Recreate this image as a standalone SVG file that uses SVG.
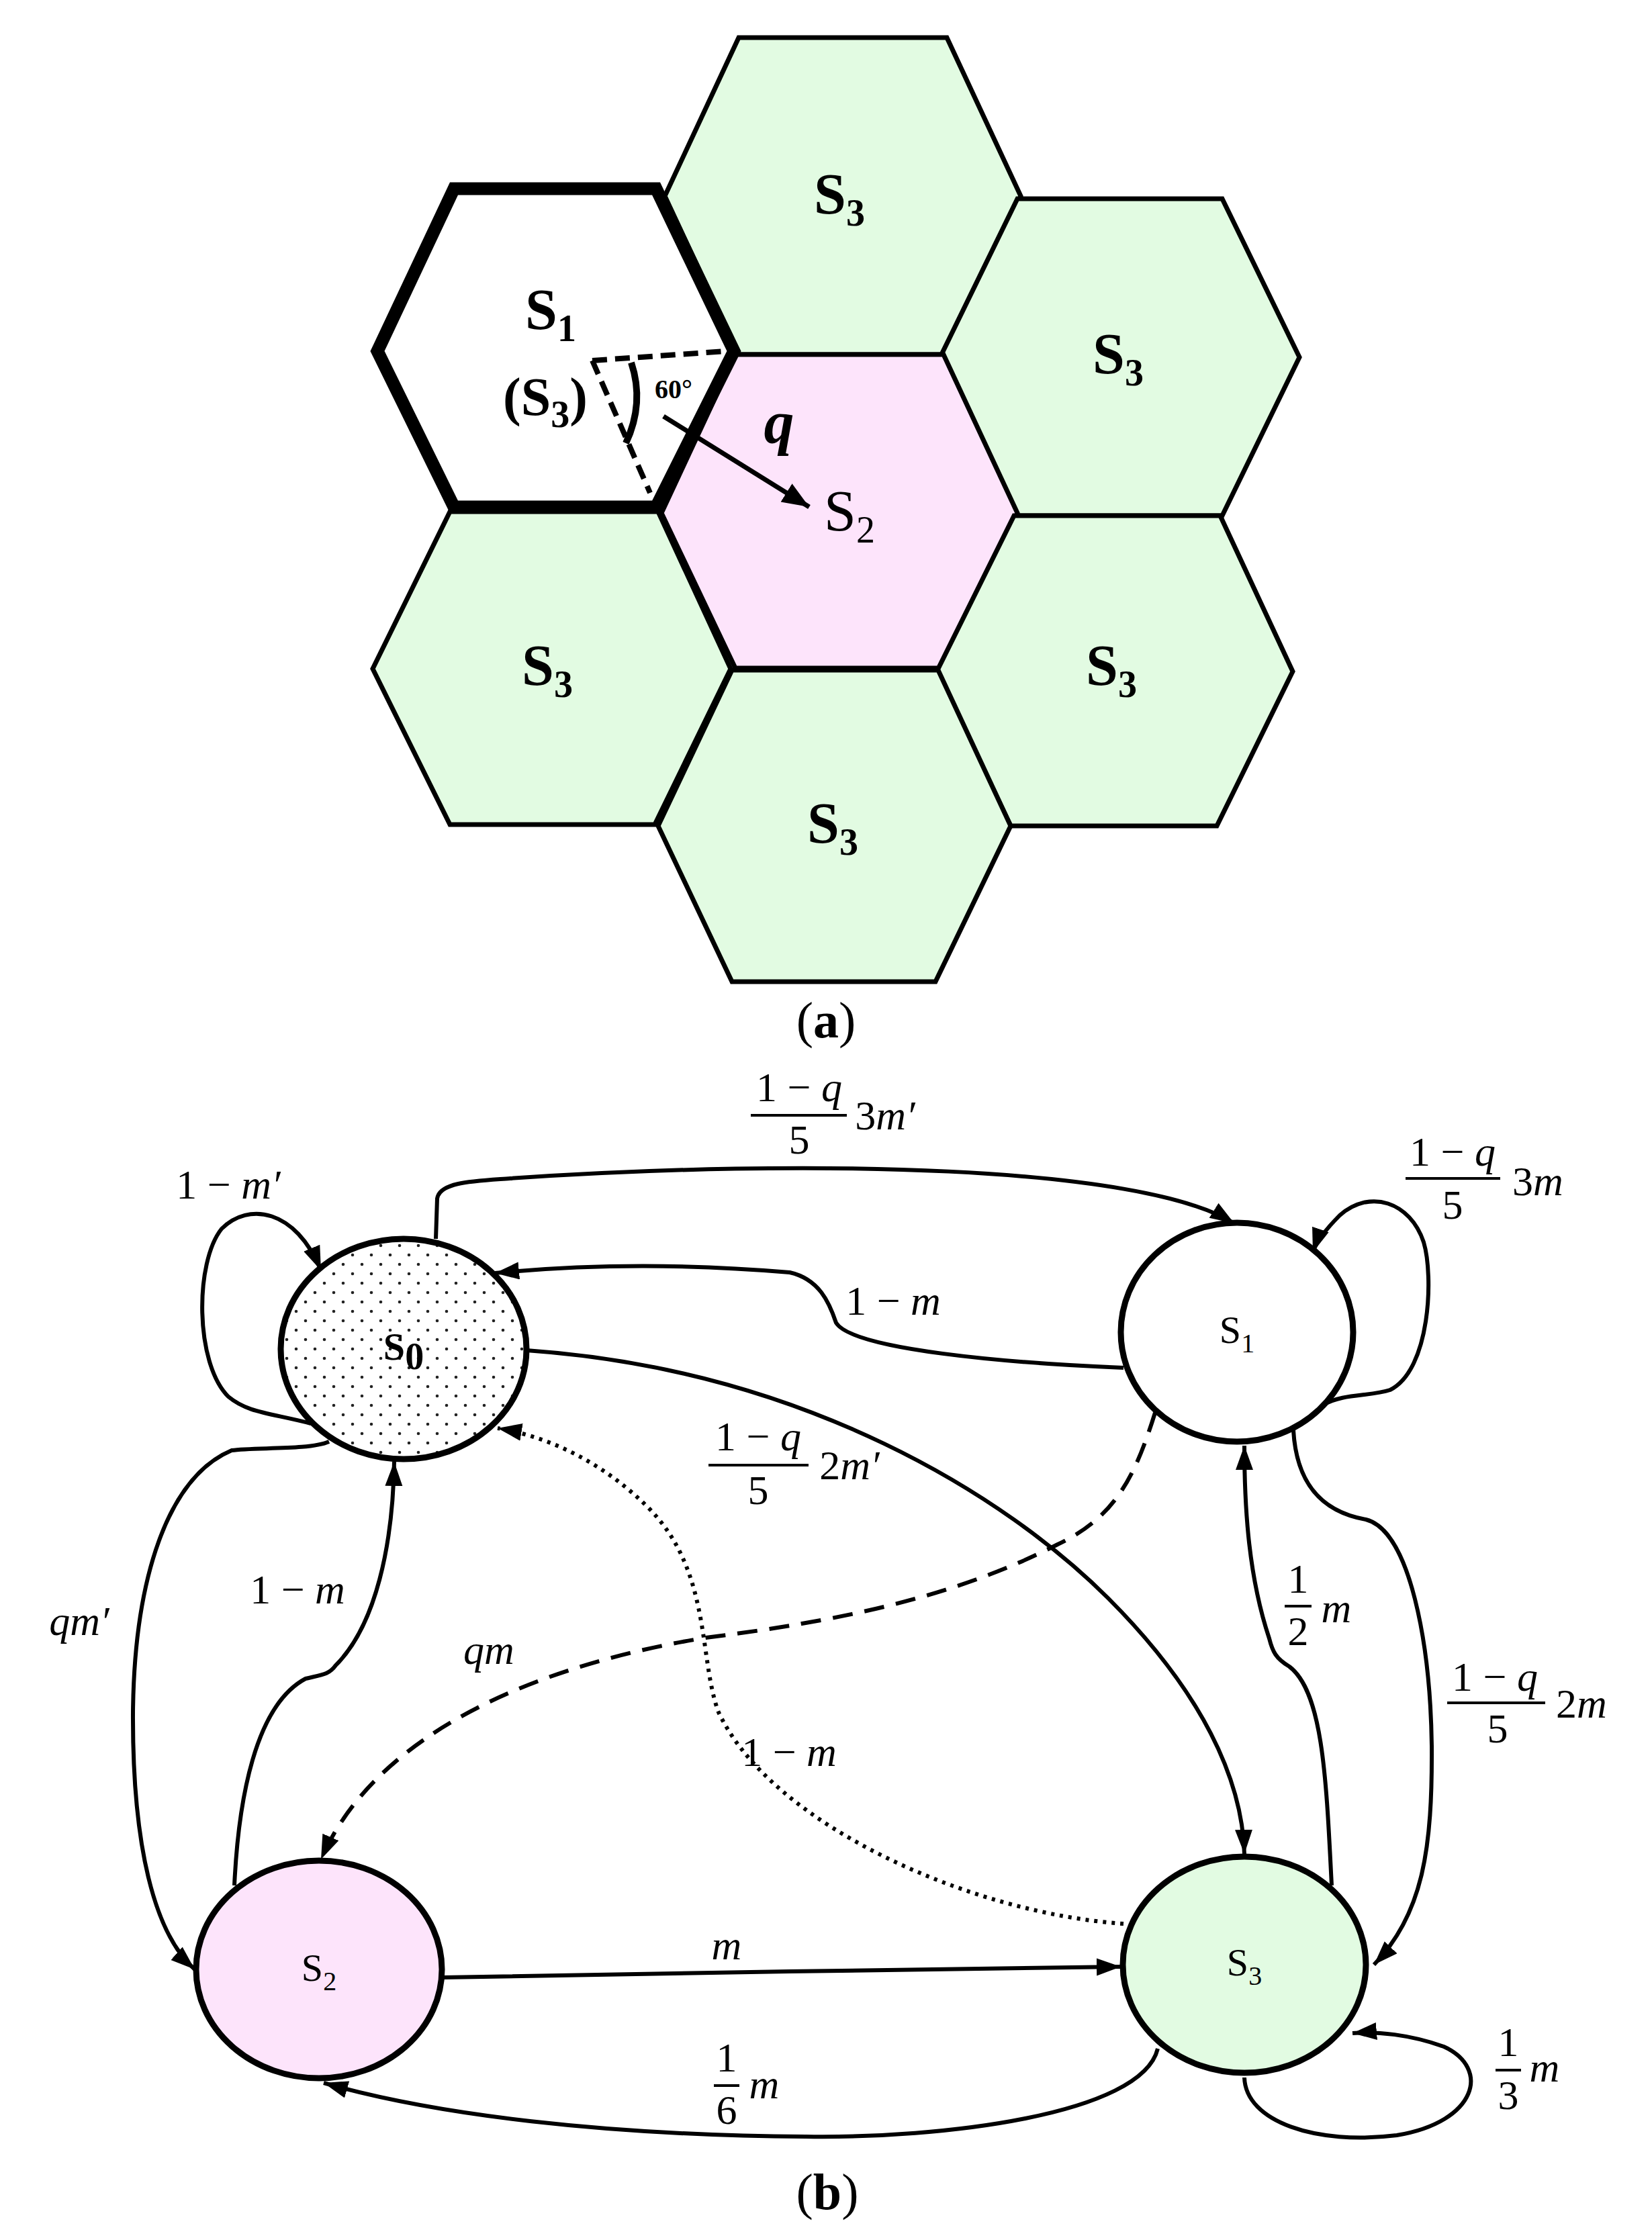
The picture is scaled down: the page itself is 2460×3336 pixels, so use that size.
<svg xmlns="http://www.w3.org/2000/svg" width="2460" height="3336" viewBox="0 0 2460 3336">
<style>
.hex{stroke:#000;stroke-width:7;stroke-linejoin:miter}
.g{fill:#e2fbe2}
.hl{font-family:"Liberation Serif",serif;font-weight:bold;font-size:86px;text-anchor:middle}
.sub{font-size:56px}
.e{fill:none;stroke:#000;stroke-width:6}
.n{stroke:#000;stroke-width:9}
.nl{font-family:"Liberation Serif",serif;font-size:58px;text-anchor:middle}
.m{font-family:"Liberation Serif",serif;font-size:62px;text-anchor:middle}
.i{font-style:italic}
.fl{stroke:#000;stroke-width:4}
.cap{font-family:"Liberation Serif",serif;font-size:76px;text-anchor:middle}
</style>
<defs>
<marker id="ah" markerUnits="userSpaceOnUse" markerWidth="40" markerHeight="30" refX="36" refY="13" orient="auto"><path d="M0,0 L36,13 L0,26 Z" fill="#000"/></marker>
<marker id="ah2" markerUnits="userSpaceOnUse" markerWidth="50" markerHeight="40" refX="40" refY="16" orient="auto"><path d="M0,0 L40,16 L0,32 Z" fill="#000"/></marker>
<pattern id="dots" patternUnits="userSpaceOnUse" width="28" height="28"><rect width="28" height="28" fill="#fff"/><circle cx="7" cy="7" r="2.3" fill="#222"/><circle cx="21" cy="21" r="2.3" fill="#222"/></pattern>
</defs>
<rect width="2460" height="3336" fill="#fff"/>
<g id="hexes">
<polygon id="h-top" class="hex g" points="1100,56 1410,56 1520,292 1410,528 1100,528 990,292"/>
<polygon id="h-ru" class="hex g" points="1515,296 1820,296 1935,532 1820,768 1515,768 1400,532"/>
<polygon id="h-pink" class="hex" fill="#fde4fb" points="1095,528 1405,528 1515,764 1405,995 1095,995 985,764"/>
<polygon id="h-ll" class="hex g" points="670,762 980,762 1088,996 975,1228 670,1228 555,996"/>
<polygon id="h-lr" class="hex g" points="1510,768 1817,768 1925,1000 1812,1230 1505,1230 1395,1000"/>
<polygon id="h-bot" class="hex g" points="1090,998 1397,998 1505,1230 1393,1462 1090,1462 980,1230"/>
<polygon id="h-s1" fill="#fff" stroke="#000" stroke-width="19" stroke-linejoin="miter" points="676,281 977,281 1093,523 977,755 676,755 562,523"/>
<text class="hl" x="1250" y="318">S<tspan class="sub" dy="18">3</tspan></text>
<text class="hl" x="1665" y="556">S<tspan class="sub" dy="18">3</tspan></text>
<text class="hl" x="815" y="1020">S<tspan class="sub" dy="18">3</tspan></text>
<text class="hl" x="1655" y="1020">S<tspan class="sub" dy="18">3</tspan></text>
<text class="hl" x="1240" y="1255">S<tspan class="sub" dy="18">3</tspan></text>
<text class="hl" x="1265" y="790" style="font-weight:normal">S<tspan class="sub" dy="18">2</tspan></text>
<text class="hl" x="820" y="490">S<tspan class="sub" dy="18">1</tspan></text>
<text class="hl" x="812" y="618" style="font-size:80px">(S<tspan class="sub" dy="18">3</tspan><tspan dy="-18">)</tspan></text>
<text x="975" y="593" font-family="Liberation Serif,serif" font-weight="bold" font-size="40">60°</text>
<text x="1160" y="660" font-family="Liberation Serif,serif" font-weight="bold" font-style="italic" font-size="90" text-anchor="middle">q</text>
<path d="M882,537 L1081,523 M882,537 L968,734" fill="none" stroke="#000" stroke-width="8" stroke-dasharray="22,12"/>
<path d="M940,540 Q960,600 932,660" fill="none" stroke="#000" stroke-width="10"/>
<line x1="988" y1="620" x2="1205" y2="755" stroke="#000" stroke-width="7" marker-end="url(#ah2)"/>
<text class="cap" x="1230" y="1545">(<tspan font-weight="bold">a</tspan>)</text>
</g>
<g id="connectors">
<path class="e" marker-end="url(#ah)" d="M463,2120 C400,2104 369,2104 340,2080 C290,2030 290,1880 330,1830 C370,1790 440,1800 478,1892"/>
<path class="e" marker-end="url(#ah)" d="M649,1845 L651,1785 C655,1760 706,1759 760,1755 C1200,1725 1700,1735 1838,1822"/>
<path class="e" marker-end="url(#ah)" d="M1673,2037 C1500,2030 1270,2010 1245,1970 C1235,1940 1220,1905 1176,1895 C1000,1880 850,1885 737,1896"/>
<path class="e" marker-end="url(#ah)" d="M784,2011 C1200,2040 1500,2230 1650,2380 C1790,2520 1850,2650 1853,2761"/>
<path class="e" marker-end="url(#ah)" d="M1971,2092 C2000,2075 2040,2080 2070,2070 C2130,2040 2135,1900 2120,1850 C2100,1790 2040,1770 1995,1810 C1975,1830 1960,1850 1955,1865"/>
<path class="e" marker-end="url(#ah)" d="M490,2147 C460,2160 380,2155 345,2160 C250,2200 200,2350 198,2550 C197,2750 230,2880 290,2933"/>
<path class="e" marker-end="url(#ah)" d="M349,2808 C355,2680 380,2540 455,2500 C480,2494 490,2494 500,2480 C560,2420 585,2300 587,2177"/>
<path class="e" marker-end="url(#ah)" stroke-dasharray="30,18" d="M1720,2104 C1690,2200 1660,2260 1575,2300 C1400,2390 1200,2420 1051,2439 C800,2480 560,2580 478,2769"/>
<path class="e" marker-end="url(#ah)" stroke-dasharray="5,8" d="M1673,2865 C1450,2850 1150,2720 1070,2550 C1040,2470 1060,2340 965,2245 C900,2180 820,2140 741,2127"/>
<path class="e" marker-end="url(#ah)" d="M1983,2808 C1975,2650 1970,2520 1920,2482 C1900,2470 1895,2460 1890,2440 C1860,2350 1853,2250 1853,2153"/>
<path class="e" marker-end="url(#ah)" d="M1926,2130 C1930,2200 1960,2250 2034,2263 C2100,2280 2130,2450 2132,2600 C2133,2750 2120,2850 2046,2926"/>
<path class="e" marker-end="url(#ah)" d="M659,2945 L1176,2936 L1669,2929"/>
<path class="e" marker-end="url(#ah)" d="M1724,3051 C1700,3150 1400,3185 1200,3182 C900,3180 650,3150 482,3102"/>
<path class="e" marker-end="url(#ah)" d="M1853,3094 C1855,3160 1960,3195 2080,3180 C2200,3160 2220,3080 2150,3048 C2100,3030 2050,3025 2014,3028"/>
<g id="labels">
<text class="m" x="340" y="1785">1 − <tspan class="i">m′</tspan></text>
<text class="m" x="1190" y="1640">1 − <tspan class="i">q</tspan></text><line class="fl" x1="1118" y1="1661" x2="1261" y2="1661"/><text class="m" x="1190" y="1718">5</text><text class="m" x="1318" y="1682">3<tspan class="i">m′</tspan></text>
<text class="m" x="1330" y="1958">1 − <tspan class="i">m</tspan></text>
<text class="m" x="1129" y="2160">1 − <tspan class="i">q</tspan></text><line class="fl" x1="1055" y1="2182" x2="1204" y2="2182"/><text class="m" x="1129" y="2240">5</text><text class="m" x="1265" y="2203">2<tspan class="i">m′</tspan></text>
<text class="m" x="2163" y="1736">1 − <tspan class="i">q</tspan></text><line class="fl" x1="2093" y1="1755" x2="2234" y2="1755"/><text class="m" x="2163" y="1815">5</text><text class="m" x="2290" y="1780">3<tspan class="i">m</tspan></text>
<text class="m i" x="118" y="2435">qm′</text>
<text class="m" x="443" y="2388">1 − <tspan class="i">m</tspan></text>
<text class="m i" x="728" y="2478">qm</text>
<text class="m" x="1175" y="2630">1 − <tspan class="i">m</tspan></text>
<text class="m" x="1933" y="2372">1</text><line class="fl" x1="1913" y1="2392" x2="1953" y2="2392"/><text class="m" x="1933" y="2450">2</text><text class="m i" x="1990" y="2416">m</text>
<text class="m" x="2226" y="2518">1 − <tspan class="i">q</tspan></text><line class="fl" x1="2155" y1="2536" x2="2301" y2="2536"/><text class="m" x="2230" y="2595">5</text><text class="m" x="2355" y="2558">2<tspan class="i">m</tspan></text>
<text class="m i" x="1082" y="2918">m</text>
<text class="m" x="1082" y="3085">1</text><line class="fl" x1="1063" y1="3106" x2="1101" y2="3106"/><text class="m" x="1082" y="3163">6</text><text class="m i" x="1138" y="3125">m</text>
<text class="m" x="2246" y="3062">1</text><line class="fl" x1="2227" y1="3083" x2="2265" y2="3083"/><text class="m" x="2246" y="3141">3</text><text class="m i" x="2300" y="3100">m</text>
</g>
</g>
<g id="node-s0"><ellipse class="n" cx="601" cy="2009" rx="183" ry="164" fill="url(#dots)"/><text class="nl" x="601" y="2025" font-weight="bold">S<tspan class="sub" dy="14" font-size="40">0</tspan></text></g>
<g id="node-s1"><ellipse class="n" cx="1842" cy="1984" rx="173" ry="163" fill="#fff"/><text class="nl" x="1842" y="2000">S<tspan dy="14" font-size="40">1</tspan></text></g>
<g id="node-s2"><ellipse class="n" cx="475" cy="2933" rx="183" ry="162" fill="#fde4fb"/><text class="nl" x="475" y="2950">S<tspan dy="14" font-size="40">2</tspan></text></g>
<g id="node-s3"><ellipse class="n" cx="1853" cy="2926" rx="181" ry="161" fill="#e2fbe2"/><text class="nl" x="1853" y="2942">S<tspan dy="14" font-size="40">3</tspan></text></g>
<text class="cap" x="1232" y="3290">(<tspan font-weight="bold">b</tspan>)</text>
</svg>
